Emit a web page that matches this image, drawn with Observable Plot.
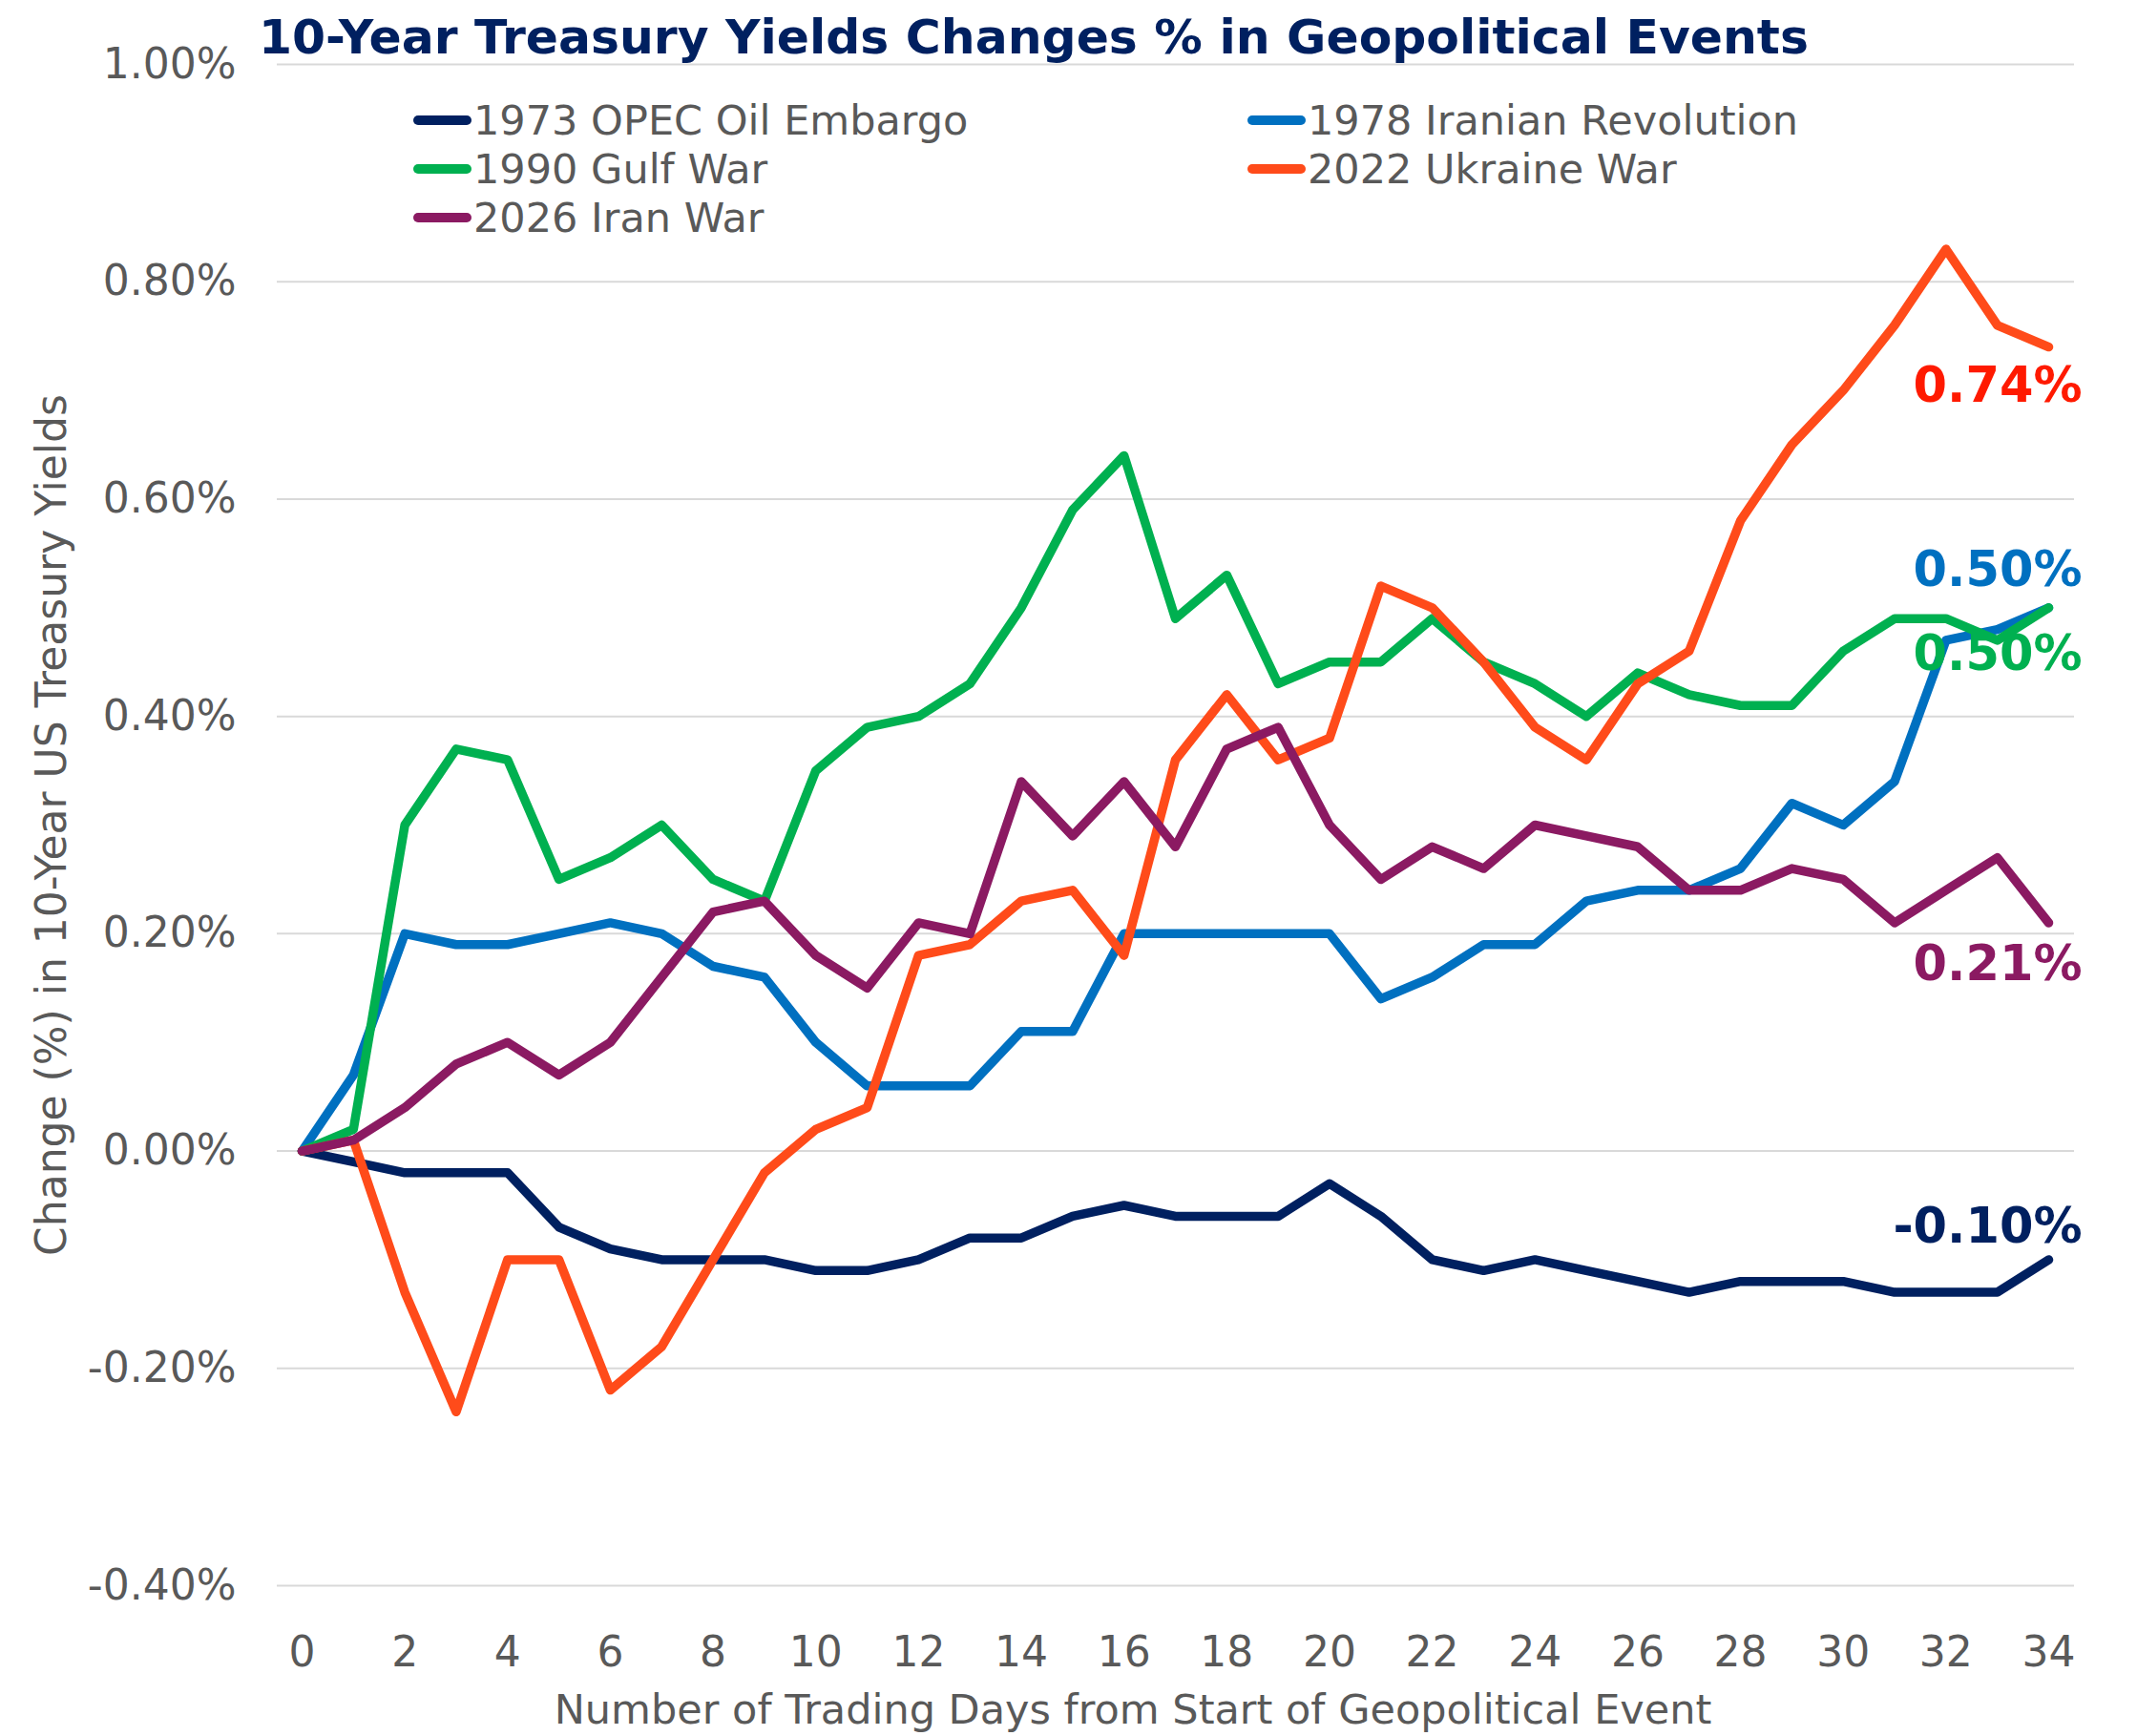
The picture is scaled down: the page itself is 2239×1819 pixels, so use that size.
<!DOCTYPE html>
<html>
<head>
<meta charset="utf-8">
<script src="https://cdn.jsdelivr.net/npm/d3@7"></script>
<script src="https://cdn.jsdelivr.net/npm/@observablehq/plot@0.6"></script>
<style>
  html, body { margin: 0; padding: 0; background: #ffffff; }
  body { font-family: "DejaVu Sans", Verdana, sans-serif; }
  #wrap { position: relative; width: 2239px; height: 1819px; overflow: hidden; }
  #title { position: absolute; left: 271px; top: 14px; font-size: 50.4px; line-height: 50px; font-weight: bold; color: #002060; white-space: nowrap; z-index: 2; }
  .leg { position: absolute; display: flex; align-items: center; height: 50px; font-size: 43px; line-height: 50px; color: #595959; white-space: nowrap; z-index: 2; }
  .sw { width: 61px; height: 10px; border-radius: 5px; margin-right: 2px; }
  #chart { position: absolute; left: 0; top: 0; }
</style>
</head>
<body>
<div id="wrap">
  <div id="chart"></div>
  <div id="title"></div>
  <div id="legend"></div>
</div>
<script>
// ---- data ----
const titleText = "10-Year Treasury Yields Changes % in Geopolitical Events";
const xLabel = "Number of Trading Days from Start of Geopolitical Event";
const yLabel = "Change (%) in 10-Year US Treasury Yields";

const days = [0,1,2,3,4,5,6,7,8,9,10,11,12,13,14,15,16,17,18,19,20,21,22,23,24,25,26,27,28,29,30,31,32,33,34];
const xTicks = [0,2,4,6,8,10,12,14,16,18,20,22,24,26,28,30,32,34];
const yTicks = [-0.4,-0.2,0,0.2,0.4,0.6,0.8,1.0];

const seriesNames = ["1973 OPEC Oil Embargo","1978 Iranian Revolution","1990 Gulf War","2022 Ukraine War","2026 Iran War"];
const lineColors  = ["#002060","#0070C0","#00B050","#FF4B1A","#8B1A62"];
const labelColors = ["#002060","#0070C0","#00B050","#FF1A00","#8B1A62"];

const opec1973    = [0,-0.01,-0.02,-0.02,-0.02,-0.07,-0.09,-0.10,-0.10,-0.10,-0.11,-0.11,-0.10,-0.08,-0.08,-0.06,-0.05,-0.06,-0.06,-0.06,-0.03,-0.06,-0.10,-0.11,-0.10,-0.11,-0.12,-0.13,-0.12,-0.12,-0.12,-0.13,-0.13,-0.13,-0.10];
const iran1978    = [0,0.07,0.20,0.19,0.19,0.20,0.21,0.20,0.17,0.16,0.10,0.06,0.06,0.06,0.11,0.11,0.20,0.20,0.20,0.20,0.20,0.14,0.16,0.19,0.19,0.23,0.24,0.24,0.26,0.32,0.30,0.34,0.47,0.48,0.50];
const gulf1990    = [0,0.02,0.30,0.37,0.36,0.25,0.27,0.30,0.25,0.23,0.35,0.39,0.40,0.43,0.50,0.59,0.64,0.49,0.53,0.43,0.45,0.45,0.49,0.45,0.43,0.40,0.44,0.42,0.41,0.41,0.46,0.49,0.49,0.47,0.50];
const ukraine2022 = [0,0.01,-0.13,-0.24,-0.10,-0.10,-0.22,-0.18,-0.10,-0.02,0.02,0.04,0.18,0.19,0.23,0.24,0.18,0.36,0.42,0.36,0.38,0.52,0.50,0.45,0.39,0.36,0.43,0.46,0.58,0.65,0.70,0.76,0.83,0.76,0.74];
const iran2026    = [0,0.01,0.04,0.08,0.10,0.07,0.10,0.16,0.22,0.23,0.18,0.15,0.21,0.20,0.34,0.29,0.34,0.28,0.37,0.39,0.30,0.25,0.28,0.26,0.30,0.29,0.28,0.24,0.24,0.26,0.25,0.21,0.24,0.27,0.21];

const seriesValues = [opec1973, iran1978, gulf1990, ukraine2022, iran2026];
// vertical offset (px) of each end label relative to its line end
const labelDy = [-34, -39, 49, 41, 44];

// ---- build ----
const fmt = v => (v < 0 ? "-" : "") + Math.abs(v).toFixed(2) + "%";

document.getElementById("title").textContent = titleText;

const tables = seriesValues.map((vals, i) => days.map((d, j) => ({series: seriesNames[i], day: d, value: vals[j]})));

const lineMarks = tables.map((t, i) => Plot.line(t, {
  x: "day", y: "value", stroke: lineColors[i], strokeWidth: 9.5,
  strokeLinejoin: "round", strokeLinecap: "round"
}));

const endMarks = tables.map((t, i) => Plot.text([t[t.length - 1]], {
  x: "day", y: "value", text: d => fmt(d.value), fill: labelColors[i],
  textAnchor: "end", dx: 35, dy: labelDy[i], fontSize: 51, fontWeight: "bold"
}));

const chart = Plot.plot({
  width: 2239,
  height: 1819,
  marginTop: 67,
  marginBottom: 158,
  marginLeft: 290,
  marginRight: 66,
  style: { fontFamily: "DejaVu Sans, Verdana, sans-serif", fontSize: "44px", color: "#595959", background: "transparent", overflow: "visible" },
  x: { domain: [0, 34], insetLeft: 26, insetRight: 27 },
  y: { domain: [-0.4, 1.0] },
  marks: [
    Plot.ruleY(yTicks, { stroke: "#D9D9D9", strokeWidth: 2 }),
    Plot.axisX({ ticks: xTicks, tickFormat: d => String(d), tickSize: 0, tickPadding: 53, label: null, fontSize: 44, fill: "#595959" }),
    Plot.axisY({ ticks: yTicks, tickFormat: fmt, tickSize: 0, tickPadding: 43, label: null, fontSize: 44, fill: "#595959" }),
    ...lineMarks,
    ...endMarks,
    Plot.text([yLabel], { frameAnchor: "left", textAnchor: "middle", rotate: -90, dx: -236, text: d => d, fontSize: 44, fill: "#595959" }),
    Plot.text([xLabel], { frameAnchor: "bottom", textAnchor: "middle", dy: 144, dx: -45, text: d => d, fontSize: 43, fill: "#595959" })
  ]
});
document.getElementById("chart").appendChild(chart);

// legend (inside plot area, top-left)
const legendPos = [[433, 126], [1307, 126], [433, 177], [1307, 177], [433, 228]];
const legend = document.getElementById("legend");
seriesNames.forEach((name, i) => {
  const item = document.createElement("div");
  item.className = "leg";
  item.style.left = legendPos[i][0] + "px";
  item.style.top = (legendPos[i][1] - 25) + "px";
  const sw = document.createElement("div");
  sw.className = "sw";
  sw.style.background = lineColors[i];
  const tx = document.createElement("span");
  tx.textContent = name;
  item.appendChild(sw);
  item.appendChild(tx);
  legend.appendChild(item);
});
</script>
</body>
</html>
